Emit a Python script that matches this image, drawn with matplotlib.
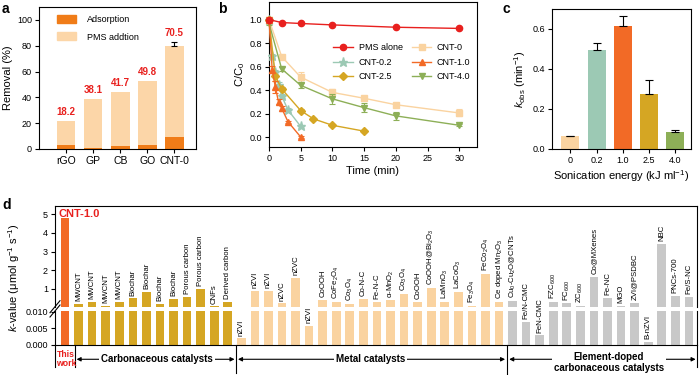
import matplotlib
matplotlib.use("Agg")
import matplotlib.pyplot as plt
import numpy as np
from matplotlib.patches import Patch
from matplotlib.transforms import blended_transform_factory

plt.rcParams.update({
    "font.family": ["Liberation Sans", "DejaVu Sans"],
    "mathtext.fontset": "custom",
    "mathtext.rm": "Liberation Sans",
    "mathtext.it": "Liberation Sans:italic",
    "mathtext.bf": "Liberation Sans:bold",
    "axes.linewidth": 0.8,
    "xtick.major.width": 0.8,
    "ytick.major.width": 0.8,
    "xtick.major.size": 3,
    "ytick.major.size": 3,
    "xtick.major.pad": 2,
    "ytick.major.pad": 2,
    "xtick.labelsize": 6.5,
    "ytick.labelsize": 6.5,
    "axes.labelsize": 8,
})

# ---- panel a data
a_materials = ["rGO", "GP", "CB", "GO", "CNT-0"]
a_adsorption = [3.3, 0.5, 2.4, 3.0, 9.0]
a_pms = [18.2, 38.1, 41.7, 49.8, 70.5]
a_err = [0, 0, 0, 0, 3.5]

# ---- panel b data
t_pms = [0, 2, 5, 10, 20, 30]
c_pms = [1.0, 0.975, 0.967, 0.955, 0.935, 0.925]
e_pms = [0, 0.005, 0.005, 0.005, 0.005, 0.005]
t_slow = [0, 2, 5, 10, 15, 20, 30]
c_cnt0 = [1.0, 0.685, 0.51, 0.38, 0.33, 0.275, 0.205]
e_cnt0 = [0.02, 0.01, 0.04, 0.03, 0.015, 0.015, 0.03]
c_cnt40 = [0.97, 0.58, 0.44, 0.325, 0.25, 0.18, 0.10]
e_cnt40 = [0.02, 0.02, 0.02, 0.04, 0.04, 0.035, 0.01]
t_fast = [0, 0.5, 1, 1.5, 2, 3, 5]
c_cnt02 = [1.0, 0.69, 0.55, 0.445, 0.35, 0.23, 0.09]
e_cnt02 = [0.02, 0.02, 0.02, 0.02, 0.02, 0.015, 0.01]
c_cnt10 = [1.0, 0.575, 0.425, 0.30, 0.245, 0.13, 0.0]
e_cnt10 = [0.02, 0.03, 0.05, 0.02, 0.02, 0.01, 0.01]
t_cnt25 = [0, 1, 2, 5, 7, 10, 15]
c_cnt25 = [1.0, 0.52, 0.41, 0.225, 0.155, 0.10, 0.05]
e_cnt25 = [0.02, 0.04, 0.02, 0.015, 0.01, 0.01, 0.01]

# ---- panel c data
c_energy = ["0", "0.2", "1.0", "2.5", "4.0"]
c_kobs = [0.063, 0.495, 0.615, 0.275, 0.087]
c_kerr = [0.003, 0.035, 0.05, 0.07, 0.008]

# ---- panel d data
this_labels = ["CNT-1.0"]
this_values = [4.78]
carbon_labels = ["MWCNT", "MWCNT", "MWCNT", "MWCNT", "Biochar", "Biochar", "Biochar",
                 "Biochar", "Porous carbon", "Porous carbon", "CNFs", "Derived carbon"]
carbon_values = [0.18, 0.29, 0.08, 0.29, 0.50, 0.86, 0.20, 0.46, 0.57, 1.02, 0.07, 0.29]
metal_labels = ["nZVI", "nZVI", "nZVI", "nZVC", "nZVC", "nZVI", "CoOOH", "CoFe$_2$O$_4$",
                "Co$_3$O$_4$", "Co-N-C", "Fe-N-C", "α-MnO$_2$", "Co$_3$O$_4$", "CoOOH",
                "CoOOH@Bi$_2$O$_3$", "LaMnO$_3$", "LaCoO$_3$", "Fe$_3$O$_4$", "FeCo$_2$O$_4$",
                "Ce doped Mn$_2$O$_3$"]
metal_values = [0.002, 0.88, 0.91, 0.23, 1.59, 0.0057, 0.41, 0.32, 0.18, 0.46, 0.32, 0.39,
                0.73, 0.29, 1.04, 0.32, 0.86, 0.09, 1.82, 0.32]
doped_labels = ["Cu$_0$-Cu$_2$O@CNTs", "Fe/N-CMC", "FeN-CMC", "FZC$_{600}$", "FC$_{600}$",
                "ZC$_{600}$", "Co@MXenes", "Fe-NC", "MGO", "ZVI@PSDBC", "B-nZVI", "NBC",
                "PNCs-700", "Fe/S-NC"]
doped_values = [0.36, 0.0069, 0.0029, 0.29, 0.23, 0.09, 1.64, 0.52, 0.09, 0.27, 0.001,
                3.41, 0.62, 0.57]

ORANGE = "#F26A26"
PEACH = "#FAD3A0"
TEAL = "#9CC9B4"
GOLD = "#D5A623"
GREEN = "#8DAF57"
GREY = "#C8C8C8"
RED = "#E8201E"

fig = plt.figure(figsize=(7, 3.75), dpi=100)
W, H = 700, 375


def px_axes(left, top, right, bottom):
    return fig.add_axes([left / W, 1 - bottom / H, (right - left) / W, (bottom - top) / H])


# ================= a
ax = px_axes(39, 7, 196, 149)
xa = np.arange(len(a_materials))
ax.bar(xa, a_adsorption, 0.69, color="#F07C18", label="Adsorption")
ax.bar(xa, a_pms, 0.69, bottom=a_adsorption, color="#FCD6A8", label="PMS addtion")
tops = np.array(a_adsorption) + np.array(a_pms)
has_err = np.array(a_err) > 0
ax.errorbar(xa[has_err], tops[has_err],
            yerr=[np.zeros(has_err.sum()), np.array(a_err)[has_err]], fmt="none",
            ecolor="black", elinewidth=0.8, capsize=2.5, capthick=0.8)
for x, t, e, lab in zip(xa, tops, a_err, a_pms):
    ax.text(x, t + e + 3, f"{lab:.1f}", color=RED, fontsize=7, fontweight="bold",
            ha="center", va="bottom")
ax.set_xlim(-1.0, 4.8)
ax.set_ylim(0, 110)
ax.set_yticks([0, 20, 40, 60, 80, 100])
ax.set_xticks(xa)
ax.set_xticklabels(a_materials, fontsize=7.5)
ax.set_ylabel("Removal (%)", labelpad=3)
ax.legend(handles=[Patch(color="#F07C18"), Patch(color="#FCD6A8")],
          labels=["Adsorption", "PMS addtion"], loc="upper left", bbox_to_anchor=(0.06, 1.0),
          frameon=False, fontsize=6.5, handlelength=2.2, handleheight=1.0,
          handletextpad=1.2, labelspacing=0.9)

# ================= b
ax = px_axes(269, 2, 477, 147)
series = [
    ("PMS alone", t_pms, c_pms, e_pms, RED, "o", 4.5, 5),
    ("CNT-0.2", t_fast, c_cnt02, e_cnt02, TEAL, "*", 6.5, 3),
    ("CNT-2.5", t_cnt25, c_cnt25, e_cnt25, GOLD, "D", 3.8, 3),
    ("CNT-0", t_slow, c_cnt0, e_cnt0, PEACH, "s", 4.2, 2),
    ("CNT-1.0", t_fast, c_cnt10, e_cnt10, ORANGE, "^", 4.8, 4),
    ("CNT-4.0", t_slow, c_cnt40, e_cnt40, GREEN, "v", 4.8, 3),
]
handles = []
for name, t, c, e, col, mk, ms, z in series:
    ax.errorbar(t, c, yerr=e, fmt="none", ecolor=col, elinewidth=0.8, capsize=2,
                capthick=0.8, zorder=z, clip_on=False)
    h, = ax.plot(t, c, "-", color=col, marker=mk, markersize=ms, lw=1.0, zorder=z + 0.5,
                 clip_on=False, label=name)
    handles.append(h)
ax.set_xlim(0, 32.8)
ax.set_ylim(-0.085, 1.15)
ax.set_xticks([0, 5, 10, 15, 20, 25, 30])
ax.set_yticks([0.0, 0.2, 0.4, 0.6, 0.8, 1.0])
ax.set_yticklabels(["0.0", "0.2", "0.4", "0.6", "0.8", "1.0"])
ax.set_xlabel("Time (min)", labelpad=2)
ax.set_ylabel("C/C$_0$", labelpad=2)
ax.legend(handles=handles, ncol=2, loc="upper left", bbox_to_anchor=(0.27, 0.77),
          frameon=False, fontsize=6.5, handlelength=2.2, columnspacing=1.0,
          labelspacing=0.6, handletextpad=0.6)

# ================= c
ax = px_axes(552, 9, 691, 149)
xc = np.arange(len(c_energy))
ax.bar(xc, c_kobs, 0.68, color=[PEACH, TEAL, ORANGE, GOLD, GREEN])
ax.errorbar(xc, c_kobs, yerr=[np.zeros(len(xc)), c_kerr], fmt="none", ecolor="black",
            elinewidth=0.8, capsize=3, capthick=0.8)
ax.set_xlim(-0.7, 4.6)
ax.set_ylim(0, 0.7)
ax.set_yticks([0.0, 0.2, 0.4, 0.6])
ax.set_yticklabels(["0.0", "0.2", "0.4", "0.6"])
ax.set_xticks(xc)
ax.set_xticklabels(c_energy)
ax.set_xlabel("Sonication energy (kJ ml$^{-1}$)", labelpad=2)
ax.set_ylabel("$k_{\\mathrm{obs}}$ (min$^{-1}$)", labelpad=3)

# ================= d
labels = this_labels + carbon_labels + metal_labels + doped_labels
values = this_values + carbon_values + metal_values + doped_values
colors = ([ORANGE] * len(this_values) + [GOLD] * len(carbon_values)
          + [PEACH] * len(metal_values) + [GREY] * len(doped_values))
xd = np.arange(len(values))
d_xlim = (-0.74, len(values) - 0.4)
top_ylim = (0.05, 5.45)

ax_t = px_axes(55, 205.7, 697, 306.7)
ax_b = px_axes(55, 311, 697, 345)
for a in (ax_t, ax_b):
    a.bar(xd, values, 0.64, color=colors)
    a.set_xlim(*d_xlim)
    a.set_xticks([])
ax_t.set_ylim(*top_ylim)
ax_t.set_yticks([1, 2, 3, 4, 5])
ax_t.spines["bottom"].set_visible(False)
ax_b.set_ylim(0, 0.0103)
ax_b.set_yticks([0, 0.005, 0.010])
ax_b.set_yticklabels(["0.000", "0.005", "0.010"])
ax_b.spines["top"].set_visible(False)

for i, (lab, v) in enumerate(zip(labels, values)):
    if i < len(this_values):
        continue
    target = ax_t if v >= top_ylim[0] else ax_b
    target.annotate(lab, (i, v), xytext=(0, 2), textcoords="offset points", rotation=90,
                    ha="center", va="bottom", fontsize=5.6, clip_on=False, annotation_clip=False)
ax_t.text(0.005, 0.97, this_labels[0], transform=ax_t.transAxes, color=RED,
          fontsize=8, fontweight="bold", ha="left", va="top")

# break marks on the left spine
kw = dict(color="black", lw=0.8, clip_on=False)
dx = 5 / 642
ax_t.plot([-dx, dx], [-6 / 101, 6 / 101], transform=ax_t.transAxes, **kw)
ax_b.plot([-dx, dx], [1 - 6 / 34, 1 + 6 / 34], transform=ax_b.transAxes, **kw)

fig.text(14 / W, 1 - 278 / H, "$k$-value (μmol g$^{-1}$ s$^{-1}$)", rotation=90,
         ha="center", va="center", fontsize=8)

# group brackets under the axis
tr = blended_transform_factory(ax_b.transData, ax_b.transAxes)
n0 = len(this_values)
n1 = n0 + len(carbon_values)
n2 = n1 + len(metal_values)
seps = [(d_xlim[0], -0.65), (n0 - 0.28, -0.65), (n1 - 0.4, -0.82), (n2 - 0.4, -0.9),
        (d_xlim[1], -0.65)]
for xs, depth in seps:
    ax_b.plot([xs, xs], [0, depth], transform=tr, **kw)

arrow = dict(arrowstyle="<|-|>", color="black", lw=0.8, mutation_scale=6,
             shrinkA=0, shrinkB=0)
y_arr = -0.42
ax_b.annotate("", xy=(n0 - 0.15, y_arr), xytext=(n1 - 0.5, y_arr), xycoords=tr,
              textcoords=tr, arrowprops=arrow)
ax_b.annotate("", xy=(n1 - 0.25, y_arr), xytext=(n2 - 0.55, y_arr), xycoords=tr,
              textcoords=tr, arrowprops=arrow)
ax_b.annotate("", xy=(n2 - 0.25, y_arr), xytext=(d_xlim[1] - 0.1, y_arr), xycoords=tr,
              textcoords=tr, arrowprops=arrow)
box = dict(facecolor="white", edgecolor="none", pad=1.5)
ax_b.text((0 + d_xlim[0] + n0 - 0.28) / 2 + 0.1, -0.42, "This\nwork", transform=tr,
          color=RED, fontsize=6.2, fontweight="bold", ha="center", va="center", linespacing=1.0)
ax_b.text(6.8, y_arr, "Carbonaceous catalysts", transform=tr, fontsize=7, fontweight="bold",
          ha="center", va="center", bbox=box)
ax_b.text((n1 + n2) / 2 - 0.5, y_arr, "Metal catalysts", transform=tr, fontsize=7,
          fontweight="bold", ha="center", va="center", bbox=box)
ax_b.text(40.1, y_arr - 0.1, "Element-doped\ncarbonaceous catalysts", transform=tr, fontsize=7,
          fontweight="bold", ha="center", va="center", bbox=box, linespacing=1.1)

# panel letters
for letter, (lx, ly) in {"a": (2, 2), "b": (218, 2), "c": (502, 2), "d": (2, 198)}.items():
    fig.text(lx / W, 1 - ly / H, letter, fontsize=10, fontweight="bold", ha="left", va="top")

fig.savefig("out.png", dpi=100)
